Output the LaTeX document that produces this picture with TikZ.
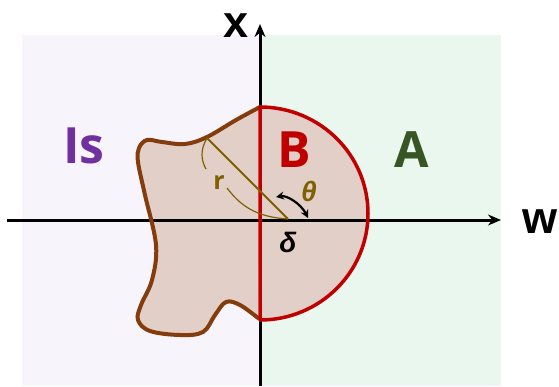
\documentclass[tikz,border=0pt]{standalone}
\usepackage{fontspec}
\setsansfont{Open Sans}
\newfontfamily\axisfont{Liberation Sans}
\usetikzlibrary{arrows.meta}

\definecolor{isviolet}{HTML}{7030A0}
\definecolor{bred}{HTML}{C00000}
\definecolor{agreen}{HTML}{375623}
\definecolor{olive}{HTML}{806000}
\definecolor{blobline}{HTML}{843C0C}
\definecolor{blobfill}{HTML}{E2CFC7}
\definecolor{leftbg}{HTML}{F7F5FB}
\definecolor{rightbg}{HTML}{EAF7EE}

\begin{document}
\begin{tikzpicture}[
  x=1pt, y=-1pt,
  axis/.style={line width=3pt, draw=black, -{Stealth[length=13pt,width=11pt]}},
  region/.style={anchor=base, font=\sffamily\bfseries\fontsize{50}{50}\selectfont},
  axislabel/.style={anchor=base, font=\axisfont\bfseries\fontsize{45}{45}\selectfont},
  greek/.style={anchor=base, font=\axisfont\bfseries\itshape\fontsize{28}{28}\selectfont},
  dimarc/.style={draw=olive, line width=1.2pt}
]
\useasboundingbox (0,0) rectangle (559,386);

% background halves
\fill[leftbg] (22,35) rectangle (260,386);
\fill[rightbg] (260,35) rectangle (501,386);

% shape Is and half disk B
\fill[blobfill] plot[smooth, tension=0.6] coordinates {
  (260,107) (236,120) (207,137) (185,144) (162,142) (147,140) (139,148)
  (138,162) (145,195) (156,245) (152,280) (141,305) (138,320) (150,331)
  (180,335) (203,332) (215,315) (226,302) (240,305) (258,318)} -- cycle;
\fill[blobfill] (260,107) arc[start angle=90, end angle=-90, x radius=108, y radius=-106.5];

% axes
\coordinate (wstart) at (7,220);
\coordinate (wend) at (501,220);
\coordinate (xstart) at (260,386);
\coordinate (xend) at (260,24);
\draw[axis] (wstart) -- (wend);
\draw[axis] (xstart) -- (xend);

\draw[blobline, line width=4pt, line cap=round] plot[smooth, tension=0.6] coordinates {
  (260,107) (236,120) (207,137) (185,144) (162,142) (147,140) (139,148)
  (138,162) (145,195) (156,245) (152,280) (141,305) (138,320) (150,331)
  (180,335) (203,332) (215,315) (226,302) (240,305) (258,318)};
\draw[bred, line width=3.5pt, line join=round] (260,107) arc[start angle=90, end angle=-90, x radius=108, y radius=-106.5] -- cycle;

% radius r and angle theta
\coordinate (rtip) at (207,138);
\coordinate (pivot) at (288,219);
\draw[olive, line width=1.8pt] (rtip) -- (pivot);
\draw[dimarc] (rtip) .. controls (200,150) and (201,160) .. (206,169);
\draw[dimarc] (227,188) .. controls (240,205) and (255,217) .. (pivot);
\coordinate (thA) at (276,197);
\coordinate (thB) at (308,218);
\draw[line width=2.2pt, {Stealth[length=8pt,width=8pt]}-{Stealth[length=8pt,width=8pt]}]
  (thA) .. controls (287,195) and (301,204) .. (thB);

% labels
\node[region, text=isviolet] (is) at (84,163) {Is};
\node[region, text=bred] (b) at (294,167) {B};
\node[region, text=agreen] (a) at (412,167) {A};
\node[axislabel] (xlab) at (236,37) {x};
\node[axislabel] (wlab) at (540,233) {w};
\node[anchor=base, font=\sffamily\bfseries\fontsize{25}{25}\selectfont, text=olive] (rlab) at (219,189) {r};
\node[greek, text=olive] (thlab) at (309,201) {θ};
\node[greek] (dlab) at (288,252) {δ};
\end{tikzpicture}
\end{document}
